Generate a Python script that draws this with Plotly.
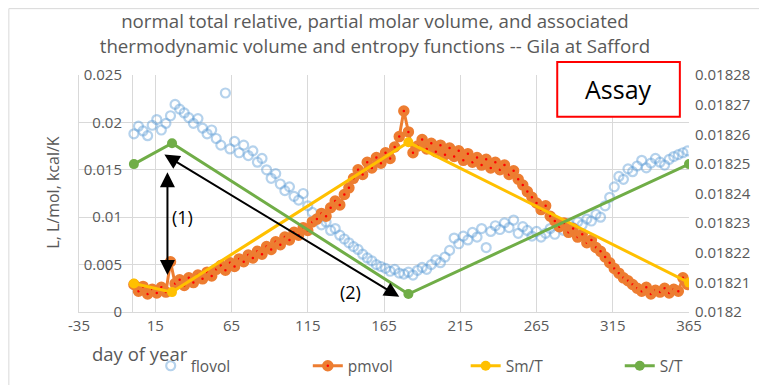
import plotly.graph_objects as go

# day of year, every third day
day = list(range(1, 366, 3))

flovol = [
    0.0188, 0.0196, 0.0191, 0.0186, 0.0197, 0.0203, 0.0192, 0.0199, 0.0207, 0.0219,
    0.0214, 0.0210, 0.0205, 0.0199, 0.0204, 0.0194, 0.0188, 0.0192, 0.0183, 0.0176,
    0.0231, 0.0172, 0.0180, 0.0168, 0.0176, 0.0165, 0.0170, 0.0158, 0.0162, 0.0150,
    0.0141, 0.0146, 0.0135, 0.0128, 0.0132, 0.0122, 0.0118, 0.0125, 0.0112, 0.0105,
    0.0098, 0.0092, 0.0095, 0.0086, 0.0088, 0.0081, 0.0077, 0.0073, 0.0069, 0.0066,
    0.0061, 0.0057, 0.0054, 0.0050, 0.0048, 0.0046, 0.0043, 0.0045, 0.0041, 0.0040,
    0.0042, 0.0039, 0.0044, 0.0047, 0.0045, 0.0050, 0.0055, 0.0052, 0.0058, 0.0065,
    0.0078, 0.0072, 0.0080, 0.0076, 0.0084, 0.0079, 0.0088, 0.0068, 0.0085, 0.0091,
    0.0087, 0.0094, 0.0089, 0.0097, 0.0083, 0.0090, 0.0086, 0.0080, 0.0085, 0.0079,
    0.0083, 0.0088, 0.0082, 0.0090, 0.0086, 0.0093, 0.0089, 0.0095, 0.0092, 0.0098,
    0.0096, 0.0103, 0.0100, 0.0112, 0.0121, 0.0132, 0.0143, 0.0140, 0.0151, 0.0148,
    0.0154, 0.0160, 0.0152, 0.0157, 0.0162, 0.0158, 0.0155, 0.0161, 0.0164, 0.0166,
    0.0168, 0.0170,
]

pmvol = [
    0.0029, 0.0022, 0.0027, 0.0019, 0.0024, 0.0020, 0.0026, 0.0021, 0.0053, 0.0030,
    0.0034, 0.0028, 0.0036, 0.0031, 0.0039, 0.0035, 0.0042, 0.0038, 0.0045, 0.0049,
    0.0044, 0.0052, 0.0048, 0.0056, 0.0053, 0.0060, 0.0057, 0.0064, 0.0061, 0.0069,
    0.0066, 0.0074, 0.0071, 0.0079, 0.0076, 0.0084, 0.0081, 0.0089, 0.0086, 0.0095,
    0.0098, 0.0104, 0.0101, 0.0110, 0.0117, 0.0113, 0.0124, 0.0131, 0.0141, 0.0150,
    0.0145, 0.0158, 0.0152, 0.0163, 0.0157, 0.0168, 0.0162, 0.0174, 0.0185, 0.0212,
    0.0190, 0.0168, 0.0175, 0.0182, 0.0172, 0.0178, 0.0169, 0.0176, 0.0166, 0.0173,
    0.0164, 0.0170, 0.0160, 0.0167, 0.0158, 0.0163, 0.0155, 0.0161, 0.0152, 0.0158,
    0.0150, 0.0155, 0.0145, 0.0149, 0.0140, 0.0134, 0.0127, 0.0121, 0.0115, 0.0108,
    0.0112, 0.0101, 0.0096, 0.0090, 0.0094, 0.0084, 0.0088, 0.0079, 0.0082, 0.0073,
    0.0076, 0.0068, 0.0064, 0.0058, 0.0052, 0.0046, 0.0041, 0.0036, 0.0033, 0.0029,
    0.0025, 0.0022, 0.0026, 0.0019, 0.0023, 0.0021, 0.0025, 0.0020, 0.0024, 0.0022,
    0.0036, 0.0029,
]

# piecewise-linear functions (vertices)
smt_day = [1, 26, 181, 365]
smt_val = [0.0030, 0.0021, 0.0179, 0.0031]
st_day = [1, 26, 181, 365]
st_val = [0.0156, 0.0178, 0.0019, 0.0156]

x_ticks = [-35, 15, 65, 115, 165, 215, 265, 315, 365]
x_text = ["-35", "15", "65", "115", "165", "215", "265", "315", "365"]

right_vals = [0.0182, 0.01821, 0.01822, 0.01823, 0.01824, 0.01825, 0.01826, 0.01827, 0.01828]
right_text = ["0.0182", "0.01821", "0.01822", "0.01823", "0.01824",
              "0.01825", "0.01826", "0.01827", "0.01828"]

gray = "#595959"
grid = "#d9d9d9"
fnt = "Open Sans"

fig = go.Figure()

fig.add_trace(go.Scatter(
    x=day, y=flovol, name="flovol", mode="markers", legend="legend",
    marker=dict(symbol="circle-open", size=9, color="rgba(91,155,213,0.45)",
                line=dict(width=2.2)),
))
fig.add_trace(go.Scatter(
    x=day, y=pmvol, name="pmvol", mode="lines+markers", legend="legend2",
    line=dict(color="#ED7D31", width=3),
    marker=dict(size=7, color="#FF0000", line=dict(color="#ED7D31", width=4.5)),
))
fig.add_trace(go.Scatter(
    x=smt_day, y=smt_val, name="Sm/T", mode="lines+markers", legend="legend3",
    line=dict(color="#FFC000", width=3),
    marker=dict(size=10, color="#FFC000"),
))
fig.add_trace(go.Scatter(
    x=st_day, y=st_val, name="S/T", mode="lines+markers", legend="legend4",
    line=dict(color="#70AD47", width=3),
    marker=dict(size=10, color="#70AD47"),
))
# keeps the secondary axis drawn
fig.add_trace(go.Scatter(x=[None], y=[None], yaxis="y2", showlegend=False,
                         hoverinfo="skip"))

# arrows and labels
fig.add_annotation(x=23, y=0.0039, ax=23, ay=0.0149, xref="x", yref="y",
                   axref="x", ayref="y", text="", showarrow=True,
                   arrowhead=2, arrowside="end+start", arrowsize=1.5,
                   arrowwidth=2, arrowcolor="black")
fig.add_annotation(x=175, y=0.0016, ax=20, ay=0.0167, xref="x", yref="y",
                   axref="x", ayref="y", text="", showarrow=True,
                   arrowhead=2, arrowside="end+start", arrowsize=1.5,
                   arrowwidth=2, arrowcolor="black")
fig.add_annotation(x=33, y=0.0100, text="(1)", showarrow=False,
                   font=dict(size=18, color="black", family=fnt))
fig.add_annotation(x=143, y=0.0021, text="(2)", showarrow=False,
                   font=dict(size=18, color="black", family=fnt))

# Assay box
fig.add_shape(type="rect", xref="paper", yref="paper",
              x0=0.784, x1=0.985, y0=0.824, y1=1.055,
              line=dict(color="#FF0000", width=2), fillcolor="white")
fig.add_annotation(xref="paper", yref="paper", x=0.884, y=0.94, text="Assay",
                   xanchor="center", yanchor="middle", showarrow=False,
                   font=dict(size=25, color="black", family=fnt))

# axis titles placed like the original
fig.add_annotation(xref="paper", yref="paper", x=0.018, y=-0.176,
                   xanchor="left", yanchor="middle", text="day of year",
                   showarrow=False, font=dict(size=18.5, color=gray, family=fnt))
fig.add_annotation(xref="paper", yref="paper", x=-0.044, y=0.504,
                   xanchor="center", yanchor="middle", text="L, L/mol, kcal/K",
                   textangle=-90, showarrow=False,
                   font=dict(size=16, color=gray, family=fnt))

# outer chart border (left and top)
fig.add_shape(type="line", xref="paper", yref="paper",
              x0=-0.115, x1=-0.115, y0=-0.4, y1=1.28,
              line=dict(color=grid, width=1))
fig.add_shape(type="line", xref="paper", yref="paper",
              x0=-0.115, x1=1.2, y0=1.28, y1=1.28,
              line=dict(color=grid, width=1))

leg = dict(orientation="h", xref="container", yref="container", y=0.05,
           xanchor="left", yanchor="middle", bgcolor="rgba(0,0,0,0)",
           font=dict(size=15.5, color=gray))

# page body adds an 8px offset, so the figure is 8px smaller
fig.update_layout(
    width=759, height=377,
    margin=dict(l=71, r=78, t=67, b=73, autoexpand=False),
    paper_bgcolor="white", plot_bgcolor="white",
    font=dict(family=fnt, color=gray, size=15),
    title=dict(
        text="normal total relative, partial molar volume, and associated<br>"
             "thermodynamic volume and entropy functions -- Gila at Safford",
        x=0.4835, xanchor="center", y=0.946, yanchor="middle",
        font=dict(size=18.7, color=gray, family=fnt),
    ),
    xaxis=dict(
        range=[-35, 365], tickvals=x_ticks, ticktext=x_text,
        showgrid=True, gridcolor=grid,
        zeroline=True, zerolinecolor=grid, zerolinewidth=1,
        showline=True, linecolor=grid, ticks="", automargin=False,
        tickfont=dict(size=15, color=gray),
    ),
    yaxis=dict(
        range=[0, 0.025], dtick=0.005, showgrid=True, gridcolor=grid,
        zeroline=False, showline=True, linecolor=grid, ticks="",
        tickformat="~g", ticklabelstandoff=-47, automargin=False,
        tickfont=dict(size=15, color=gray),
    ),
    yaxis2=dict(
        overlaying="y", side="right", range=[0.0182, 0.01828],
        tickvals=right_vals, ticktext=right_text, showgrid=False,
        zeroline=False, showline=False, ticks="", ticklabelstandoff=5,
        automargin=False, tickfont=dict(size=15, color=gray),
    ),
    legend=dict(leg, x=0.188),
    legend2=dict(leg, x=0.395),
    legend3=dict(leg, x=0.603),
    legend4=dict(leg, x=0.806),
    showlegend=True,
)

fig.write_html("out.html")
